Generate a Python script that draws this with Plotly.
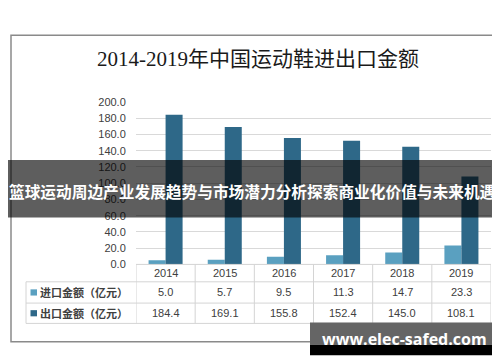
import plotly.graph_objects as go

years = ["2014", "2015", "2016", "2017", "2018", "2019"]
import_vals = [5.0, 5.7, 9.5, 11.3, 14.7, 23.3]
export_vals = [184.4, 169.1, 155.8, 152.4, 145.0, 108.1]
series_names = ["进口金额（亿元）", "出口金额（亿元）"]
title_text = "2014-2019年中国运动鞋进出口金额"
banner_text = "篮球运动周边产业发展趋势与市场潜力分析探索商业化价值与未来机遇"
watermark_text = "www.elec-safed.com"

W, H = 500, 362
IMP_COLOR = "#5aa0c0"
EXP_COLOR = "#2e6888"
GRID = "#d9d9d9"
TXT = "#404040"
LINE = "#d4d4d4"

idx = list(range(len(years)))


def px(x):
    return x / W


def py(y):
    return 1 - y / H


fig = go.Figure()
fig.add_trace(go.Bar(x=idx, y=import_vals, name=series_names[0],
                     marker=dict(color=IMP_COLOR, line=dict(width=0))))
fig.add_trace(go.Bar(x=idx, y=export_vals, name=series_names[1],
                     marker=dict(color=EXP_COLOR, line=dict(width=0))))

shapes = []
annotations = []

# outer frame
shapes.append(dict(type="rect", xref="paper", yref="paper",
                   x0=px(3), x1=px(496), y0=py(339), y1=py(22),
                   line=dict(color="#8a8a8a", width=1.5), layer="below"))

# table lines
row_y = [259, 277, 299, 320]
for i, yy in enumerate(row_y):
    x0 = 128 if i == 0 else 18
    shapes.append(dict(type="line", xref="paper", yref="paper",
                       x0=px(x0), x1=px(483), y0=py(yy), y1=py(yy),
                       line=dict(color=LINE, width=1), layer="above"))
shapes.append(dict(type="line", xref="paper", yref="paper",
                   x0=px(18), x1=px(18), y0=py(277), y1=py(320),
                   line=dict(color=LINE, width=1), layer="above"))
for k in range(len(years) + 1):
    shapes.append(dict(type="line", xref="x", yref="paper",
                       x0=k - 0.5, x1=k - 0.5, y0=py(259), y1=py(320),
                       line=dict(color=LINE, width=1), layer="above"))

# legend squares in table
for yc, col in [(288, IMP_COLOR), (309.5, EXP_COLOR)]:
    shapes.append(dict(type="rect", xref="paper", yref="paper",
                       x0=px(22.5), x1=px(29), y0=py(yc + 3.2), y1=py(yc - 3.2),
                       fillcolor=col, line=dict(width=0), layer="above"))

# table text
for i, yr in enumerate(years):
    annotations.append(dict(x=i, xref="x", y=py(268), yref="paper", text=yr,
                            showarrow=False, xanchor="center", yanchor="middle",
                            font=dict(family="Liberation Sans", size=11, color=TXT)))
    annotations.append(dict(x=i, xref="x", y=py(288), yref="paper",
                            text=f"{import_vals[i]:.1f}", showarrow=False,
                            xanchor="center", yanchor="middle",
                            font=dict(family="Liberation Sans", size=11, color=TXT)))
    annotations.append(dict(x=i, xref="x", y=py(309.5), yref="paper",
                            text=f"{export_vals[i]:.1f}", showarrow=False,
                            xanchor="center", yanchor="middle",
                            font=dict(family="Liberation Sans", size=11, color=TXT)))
for name, yc in zip(series_names, [288, 309.5]):
    annotations.append(dict(x=px(29.5), xref="paper", y=py(yc), yref="paper",
                            text="<b>" + name + "</b>", showarrow=False,
                            xanchor="left", yanchor="middle",
                            font=dict(family="Noto Sans CJK SC", size=11, color=TXT)))

# title
annotations.append(dict(x=px(250), xref="paper", y=py(47), yref="paper",
                        text=title_text, showarrow=False, xanchor="center",
                        yanchor="middle",
                        font=dict(family="Liberation Serif, Noto Sans CJK SC",
                                  size=21, color="#1a1a1a")))

# banner overlay
shapes.append(dict(type="rect", xref="paper", yref="paper",
                   x0=0, x1=1, y0=py(210.5), y1=py(151),
                   fillcolor="rgba(0,0,0,0.63)", line=dict(width=0), layer="above"))
annotations.append(dict(x=px(-1), xref="paper", y=py(184), yref="paper",
                        text="<b>" + banner_text + "</b>", showarrow=False,
                        xanchor="left", yanchor="middle",
                        font=dict(family="Noto Sans CJK SC", size=15.7, color="white")))

# watermark
shapes.append(dict(type="rect", xref="paper", yref="paper",
                   x0=px(302), x1=px(491), y0=py(342), y1=py(319),
                   fillcolor="#656565", line=dict(width=0), layer="above"))
shapes.append(dict(type="rect", xref="paper", yref="paper",
                   x0=px(302), x1=px(491), y0=py(353), y1=py(342),
                   fillcolor="#000000", line=dict(width=0), layer="above"))
annotations.append(dict(x=px(396), xref="paper", y=py(336), yref="paper",
                        text="<b>" + watermark_text + "</b>", showarrow=False,
                        xanchor="center", yanchor="middle",
                        font=dict(family="Open Sans", size=16, color="white")))

fig.update_layout(
    width=W, height=H, autosize=False,
    margin=dict(l=0, r=0, t=0, b=0),
    paper_bgcolor="white", plot_bgcolor="white",
    barmode="group", bargap=0.425, bargroupgap=0,
    showlegend=False,
    shapes=shapes, annotations=annotations,
    xaxis=dict(domain=[px(128), px(483)], type="linear", range=[-0.5, 5.5],
               showticklabels=False, showgrid=False, zeroline=False,
               showline=False, ticks=""),
    yaxis=dict(domain=[py(259), py(91)], range=[0, 200], dtick=20,
               tickformat=".1f", showgrid=True, gridcolor=GRID, gridwidth=1,
               zeroline=False, showline=False, ticks="outside", ticklen=7,
               tickcolor="rgba(0,0,0,0)",
               tickfont=dict(family="Liberation Sans", size=11, color=TXT)),
)

fig.write_html("out.html")
